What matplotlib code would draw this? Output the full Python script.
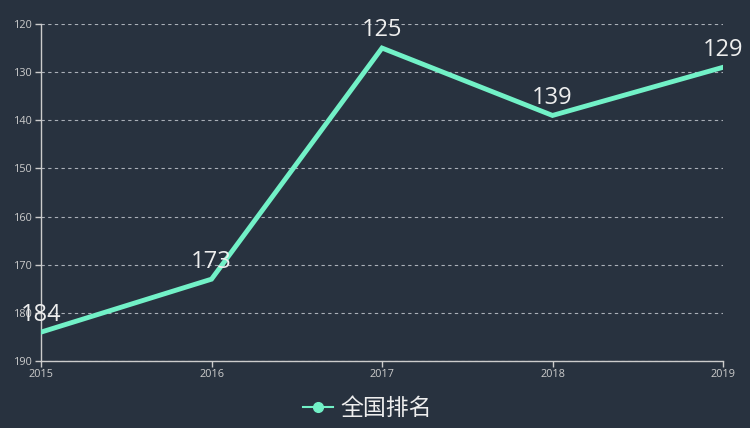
import matplotlib
matplotlib.use("Agg")
import matplotlib.pyplot as plt

plt.rcParams['font.family'] = ['Open Sans', 'Noto Sans CJK SC', 'DejaVu Sans']

years = ["2015", "2016", "2017", "2018", "2019"]
ranks = [184, 173, 125, 139, 129]
series_name = "全国排名"
y_ticks = [120, 130, 140, 150, 160, 170, 180, 190]

bg = "#28323f"
line_color = "#72f1c7"
text_color = "#eeeeee"
axis_color = "#cccccc"

fig = plt.figure(figsize=(7.5, 4.28), dpi=100, facecolor=bg)
ax = fig.add_axes([0.0547, 0.1565, 0.9093, 0.7875], facecolor=bg)

x = list(range(len(years)))
ax.plot(x, ranks, color=line_color, linewidth=3.5, marker="o", markersize=0,
        label=series_name, solid_joinstyle="miter", zorder=3)

# value labels above each point
for xi, v in zip(x, ranks):
    ax.annotate(str(v), (xi, v), xytext=(0, 4), textcoords="offset points",
                ha="center", va="bottom", fontsize=17, color=text_color, zorder=4)

ax.set_xlim(0, len(years) - 1)
ax.set_xticks(x)
ax.set_xticklabels(years)
ax.set_ylim(190, 120)
ax.set_yticks(y_ticks)

ax.grid(axis="y", linestyle=(0, (3, 3)), color="#aab0b8", linewidth=0.8)
ax.set_axisbelow(True)

for s in ["top", "right"]:
    ax.spines[s].set_visible(False)
for s in ["left", "bottom"]:
    ax.spines[s].set_color(axis_color)
    ax.spines[s].set_linewidth(1)

ax.tick_params(axis="both", colors=axis_color, labelcolor=axis_color,
               labelsize=7.8, length=4, width=1, pad=2)

leg = fig.legend(handles=ax.get_lines(), labels=[series_name],
                 loc="center", bbox_to_anchor=(0.49, 0.044), frameon=False,
                 fontsize=16.5, handlelength=1.3, handletextpad=0.35,
                 labelcolor=text_color)
for h in leg.legend_handles:
    h.set_linewidth(1.5)
    h.set_marker("o")
    h.set_markersize(7)
    h.set_markerfacecolor(line_color)
    h.set_markeredgecolor(line_color)

fig.savefig("out.png", dpi=100, facecolor=bg)
